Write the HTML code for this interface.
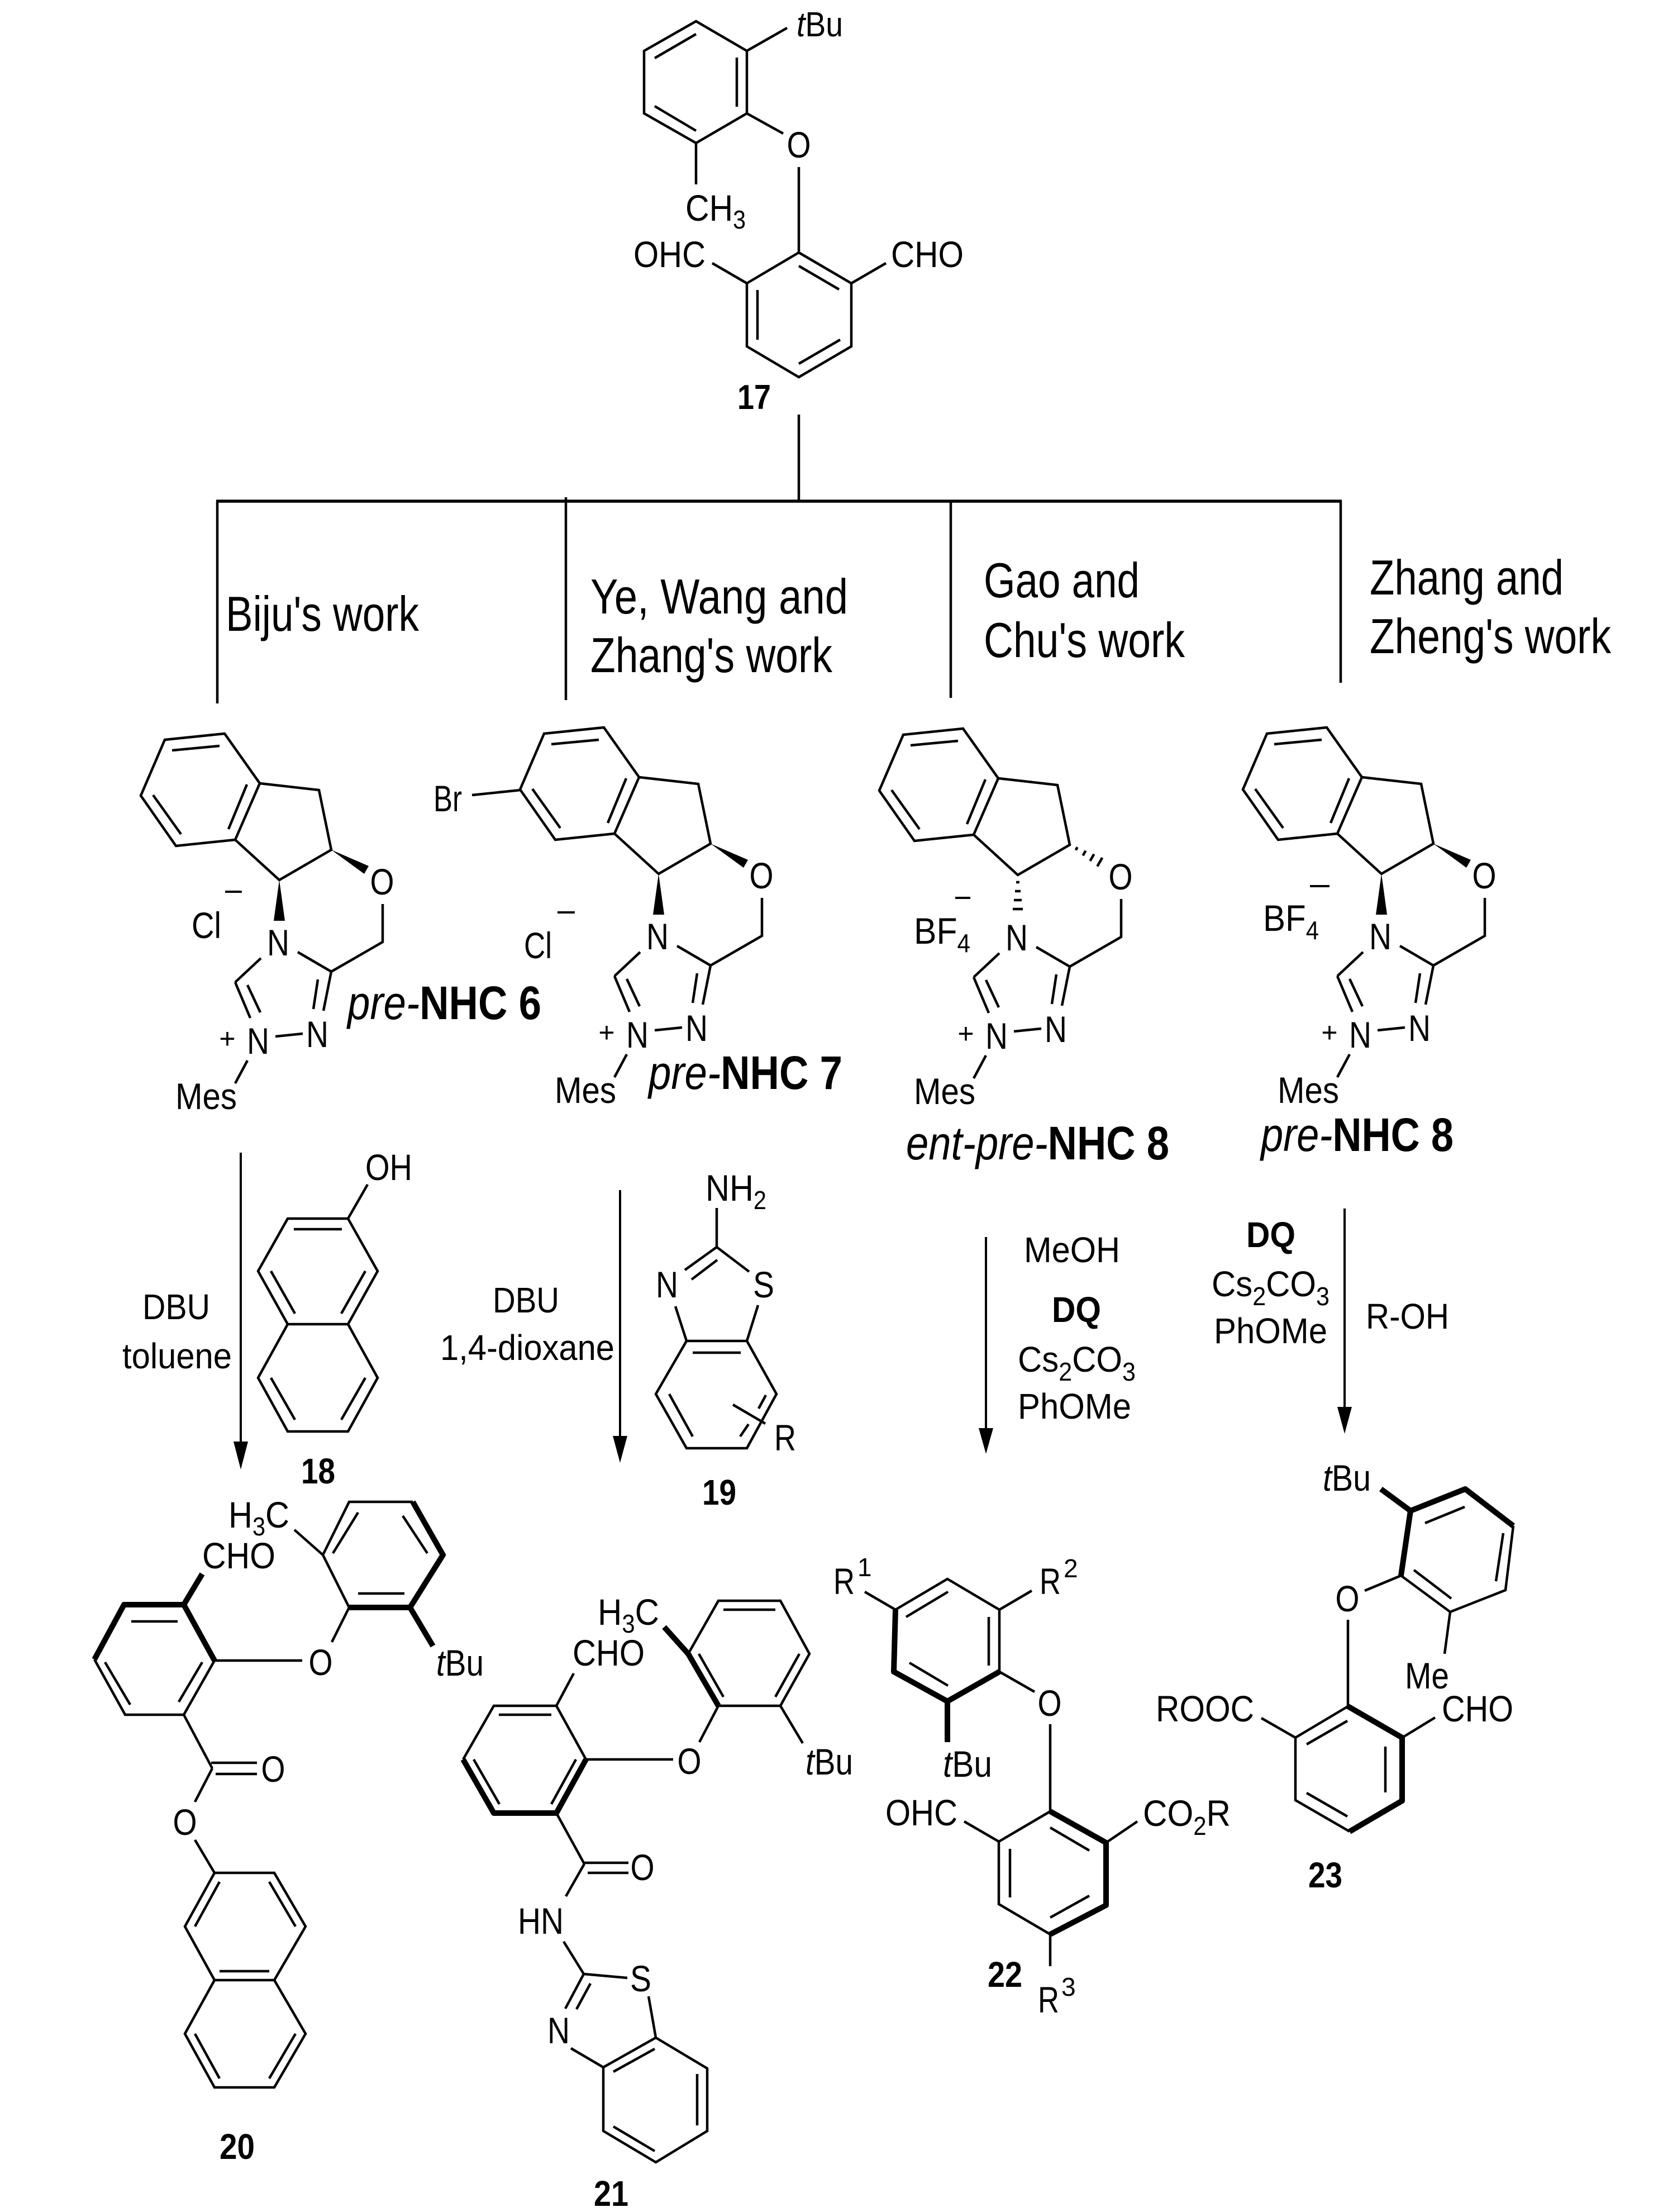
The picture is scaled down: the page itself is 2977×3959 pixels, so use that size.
<!DOCTYPE html>
<html><head><meta charset="utf-8"><title>Scheme</title><style>
html,body{margin:0;padding:0;background:#fff;}
svg{display:block;}
text{font-family:"Liberation Sans",Arial,sans-serif;fill:#000;}
.m{text-anchor:middle;}
.bd{font-weight:bold;}
.it{font-style:italic;}
</style></head><body>
<svg xmlns="http://www.w3.org/2000/svg" width="2977" height="3959" viewBox="0 0 2977 3959">
<rect width="2977" height="3959" fill="#fff"/>

<!-- ============ THIN BONDS ============ -->
<g stroke="#000" stroke-width="4.5" fill="none" stroke-linejoin="miter">
<!-- 17 -->
<polygon points="1246,38 1337,91 1337,203 1246,256 1153,203 1153,91"/>
<line x1="1172" y1="104" x2="1246" y2="61"/>
<line x1="1319" y1="103" x2="1319" y2="191"/>
<line x1="1172" y1="190" x2="1246" y2="234"/>
<line x1="1337" y1="91" x2="1409" y2="50"/>
<line x1="1337" y1="203" x2="1402" y2="239"/>
<line x1="1430" y1="299" x2="1430" y2="452"/>
<line x1="1246" y1="256" x2="1246" y2="330"/>
<polygon points="1430,452 1524,507 1524,620 1430,675 1337,620 1337,507"/>
<line x1="1430" y1="476" x2="1502" y2="518"/>
<line x1="1356" y1="519" x2="1356" y2="608"/>
<line x1="1430" y1="651" x2="1504" y2="608"/>
<line x1="1275" y1="471" x2="1337" y2="507"/>
<line x1="1524" y1="507" x2="1586" y2="471"/>

<!-- tree -->
<line x1="1430" y1="742" x2="1430" y2="897"/>
<line x1="387" y1="897" x2="2402" y2="897" stroke-width="5.5"/>
<line x1="389" y1="897" x2="389" y2="1259"/>
<line x1="1013" y1="890" x2="1013" y2="1253"/>
<line x1="1702" y1="897" x2="1702" y2="1249"/>
<line x1="2400" y1="897" x2="2400" y2="1222"/>

<!-- NHC cores -->
<g id="c6">
<polygon points="295,1324 402,1313 465,1402 421,1503 315,1514 252,1424"/>
<line x1="308" y1="1343" x2="393" y2="1335"/>
<line x1="442" y1="1404" x2="409" y2="1484"/>
<line x1="274" y1="1423" x2="324" y2="1493"/>
<polyline points="465,1402 571,1414 593,1521 500,1575 421,1503"/>
<polyline points="685,1618 685,1686 593,1739"/>
<line x1="533" y1="1704" x2="593" y2="1739"/>
<line x1="467" y1="1715" x2="421" y2="1758"/>
<line x1="421" y1="1758" x2="448" y2="1822"/>
<line x1="443" y1="1763" x2="466" y2="1812"/>
<line x1="493" y1="1855" x2="542" y2="1850"/>
<line x1="593" y1="1739" x2="579" y2="1809"/>
<line x1="569" y1="1753" x2="561" y2="1806"/>
<line x1="443" y1="1898" x2="421" y2="1939"/>
</g>
<g transform="translate(679,-11)">
<polygon points="295,1324 402,1313 465,1402 421,1503 315,1514 252,1424"/>
<line x1="308" y1="1343" x2="393" y2="1335"/>
<line x1="442" y1="1404" x2="409" y2="1484"/>
<line x1="274" y1="1423" x2="324" y2="1493"/>
<polyline points="465,1402 571,1414 593,1521 500,1575 421,1503"/>
<polyline points="685,1618 685,1686 593,1739"/>
<line x1="533" y1="1704" x2="593" y2="1739"/>
<line x1="467" y1="1715" x2="421" y2="1758"/>
<line x1="421" y1="1758" x2="448" y2="1822"/>
<line x1="443" y1="1763" x2="466" y2="1812"/>
<line x1="493" y1="1855" x2="542" y2="1850"/>
<line x1="593" y1="1739" x2="579" y2="1809"/>
<line x1="569" y1="1753" x2="561" y2="1806"/>
<line x1="443" y1="1898" x2="421" y2="1939"/>
</g>
<line x1="845" y1="1423" x2="932" y2="1414"/>
<g transform="translate(1322,-9)">
<polygon points="295,1324 402,1313 465,1402 421,1503 315,1514 252,1424"/>
<line x1="308" y1="1343" x2="393" y2="1335"/>
<line x1="442" y1="1404" x2="409" y2="1484"/>
<line x1="274" y1="1423" x2="324" y2="1493"/>
<polyline points="465,1402 571,1414 593,1521 500,1575 421,1503"/>
<polyline points="685,1618 685,1686 593,1739"/>
<line x1="533" y1="1704" x2="593" y2="1739"/>
<line x1="467" y1="1715" x2="421" y2="1758"/>
<line x1="421" y1="1758" x2="448" y2="1822"/>
<line x1="443" y1="1763" x2="466" y2="1812"/>
<line x1="493" y1="1855" x2="542" y2="1850"/>
<line x1="593" y1="1739" x2="579" y2="1809"/>
<line x1="569" y1="1753" x2="561" y2="1806"/>
<line x1="443" y1="1898" x2="421" y2="1939"/>
<!-- hashed bonds -->
<line x1="603.7" y1="1530.5" x2="606.7" y2="1525.3"/>
<line x1="616.5" y1="1540.2" x2="621.5" y2="1531.6"/>
<line x1="629.4" y1="1549.9" x2="636.4" y2="1537.7"/>
<line x1="642.3" y1="1559.6" x2="651.3" y2="1544.0"/>
<line x1="497" y1="1588" x2="503" y2="1588"/>
<line x1="495" y1="1604" x2="505" y2="1604"/>
<line x1="493" y1="1620" x2="507" y2="1620"/>
<line x1="491" y1="1636" x2="509" y2="1636"/>
</g>
<g transform="translate(1973,-11)">
<polygon points="295,1324 402,1313 465,1402 421,1503 315,1514 252,1424"/>
<line x1="308" y1="1343" x2="393" y2="1335"/>
<line x1="442" y1="1404" x2="409" y2="1484"/>
<line x1="274" y1="1423" x2="324" y2="1493"/>
<polyline points="465,1402 571,1414 593,1521 500,1575 421,1503"/>
<polyline points="685,1618 685,1686 593,1739"/>
<line x1="533" y1="1704" x2="593" y2="1739"/>
<line x1="467" y1="1715" x2="421" y2="1758"/>
<line x1="421" y1="1758" x2="448" y2="1822"/>
<line x1="443" y1="1763" x2="466" y2="1812"/>
<line x1="493" y1="1855" x2="542" y2="1850"/>
<line x1="593" y1="1739" x2="579" y2="1809"/>
<line x1="569" y1="1753" x2="561" y2="1806"/>
<line x1="443" y1="1898" x2="421" y2="1939"/>
</g>
<!-- minus signs -->
<line x1="403" y1="1596" x2="433" y2="1596" stroke-width="4"/>
<line x1="998" y1="1633" x2="1029" y2="1633" stroke-width="4"/>
<line x1="1710" y1="1607" x2="1737" y2="1607" stroke-width="4"/>
<line x1="2345" y1="1586" x2="2380" y2="1586" stroke-width="4"/>

<!-- arrows -->
<line x1="431" y1="2063" x2="431" y2="2590" stroke-width="4"/>
<line x1="1110" y1="2130" x2="1110" y2="2580" stroke-width="4"/>
<line x1="1765" y1="2214" x2="1765" y2="2565" stroke-width="4"/>
<line x1="2407" y1="2163" x2="2407" y2="2525" stroke-width="4"/>

<!-- 18 -->
<polygon points="515,2181 623,2181 676,2275 623,2370 515,2370 462,2275"/>
<polyline points="623,2370 676,2466 623,2562 515,2562 462,2466 515,2370"/>
<line x1="526" y1="2200" x2="612" y2="2200"/>
<line x1="654" y1="2275" x2="611" y2="2351"/>
<line x1="485" y1="2275" x2="528" y2="2351"/>
<line x1="485" y1="2466" x2="528" y2="2541"/>
<line x1="654" y1="2466" x2="611" y2="2541"/>
<line x1="623" y1="2181" x2="658" y2="2120"/>

<!-- 19 -->
<line x1="1283" y1="2162" x2="1283" y2="2232"/>
<line x1="1283" y1="2232" x2="1226" y2="2273"/>
<line x1="1284" y1="2255" x2="1238" y2="2290"/>
<line x1="1283" y1="2232" x2="1341" y2="2276"/>
<line x1="1357" y1="2336" x2="1337" y2="2400"/>
<line x1="1209" y1="2338" x2="1229" y2="2400"/>
<polygon points="1229,2400 1337,2400 1390,2495 1337,2592 1229,2592 1174,2495"/>
<line x1="1240" y1="2421" x2="1326" y2="2421"/>
<line x1="1198" y1="2495" x2="1240" y2="2571"/>
<line x1="1371" y1="2497" x2="1358" y2="2521"/>
<line x1="1340" y1="2549" x2="1325" y2="2571"/>
<line x1="1312" y1="2514" x2="1370" y2="2548"/>

<!-- 20 thin -->
<polyline points="739,2688 625,2688 578,2783 625,2877"/>
<line x1="641" y1="2707" x2="596" y2="2780"/>
<line x1="721" y1="2713" x2="765" y2="2780"/>
<line x1="641" y1="2852" x2="724" y2="2852"/>
<line x1="527" y1="2738" x2="578" y2="2783"/>
<line x1="625" y1="2877" x2="594" y2="2939"/>
<polyline points="384,2972 329,3069 224,3069 169,2970"/>
<line x1="235" y1="2902" x2="318" y2="2902"/>
<line x1="188" y1="2975" x2="233" y2="3051"/>
<line x1="362" y1="2975" x2="320" y2="3046"/>
<line x1="384" y1="2972" x2="541" y2="2972"/>
<line x1="329" y1="3069" x2="380" y2="3165"/>
<line x1="378" y1="3155" x2="460" y2="3155"/>
<line x1="386" y1="3175" x2="460" y2="3175"/>
<line x1="380" y1="3165" x2="349" y2="3225"/>
<line x1="349" y1="3293" x2="384" y2="3352"/>
<polygon points="384,3352 491,3352 547,3448 491,3544 384,3544 331,3448"/>
<polyline points="491,3544 547,3640 491,3736 384,3736 331,3640 384,3544"/>
<line x1="349" y1="3448" x2="393" y2="3368"/>
<line x1="482" y1="3368" x2="529" y2="3448"/>
<line x1="482" y1="3528" x2="393" y2="3528"/>
<line x1="529" y1="3640" x2="482" y2="3720"/>
<line x1="393" y1="3720" x2="349" y2="3640"/>

<!-- 21 thin -->
<polyline points="1232,2960 1286,2865 1397,2865 1449,2960 1397,3053 1286,3053"/>
<line x1="1295" y1="2881" x2="1388" y2="2881"/>
<line x1="1431" y1="2960" x2="1388" y2="3037"/>
<line x1="1295" y1="3037" x2="1251" y2="2960"/>
<line x1="1286" y1="3053" x2="1252" y2="3118"/>
<line x1="1397" y1="3053" x2="1437" y2="3120"/>
<polyline points="829,3149 884,3053 996,3053 1049,3149"/>
<line x1="893" y1="3069" x2="987" y2="3069"/>
<line x1="1031" y1="3149" x2="987" y2="3229"/>
<line x1="894" y1="3229" x2="848" y2="3149"/>
<line x1="996" y1="3053" x2="1027" y2="2995"/>
<line x1="1049" y1="3149" x2="1205" y2="3149"/>
<line x1="996" y1="3245" x2="1046" y2="3336"/>
<line x1="1044" y1="3334" x2="1125" y2="3334"/>
<line x1="1052" y1="3352" x2="1125" y2="3352"/>
<line x1="1046" y1="3336" x2="1013" y2="3394"/>
<line x1="1009" y1="3475" x2="1045" y2="3533"/>
<line x1="1045" y1="3533" x2="1123" y2="3540"/>
<line x1="1045" y1="3533" x2="1012" y2="3595"/>
<line x1="1057" y1="3550" x2="1032" y2="3596"/>
<line x1="1022" y1="3666" x2="1080" y2="3700"/>
<line x1="1161" y1="3573" x2="1174" y2="3647"/>
<polygon points="1174,3647 1266,3702 1266,3814 1174,3870 1080,3814 1080,3700"/>
<line x1="1248" y1="3712" x2="1248" y2="3804"/>
<line x1="1172" y1="3850" x2="1098" y2="3806"/>
<line x1="1098" y1="3708" x2="1172" y2="3667"/>

<!-- 22 thin -->
<polyline points="1603,2881 1696,2826 1789,2881 1789,2992"/>
<line x1="1622" y1="2894" x2="1697" y2="2849"/>
<line x1="1770" y1="2894" x2="1770" y2="2981"/>
<line x1="1628" y1="2976" x2="1697" y2="3017"/>
<line x1="1603" y1="2881" x2="1548" y2="2849"/>
<line x1="1789" y1="2881" x2="1847" y2="2847"/>
<line x1="1789" y1="2992" x2="1852" y2="3028"/>
<line x1="1880" y1="3086" x2="1880" y2="3242"/>
<polyline points="1880,3462 1788,3408 1788,3296 1880,3242"/>
<line x1="1880" y1="3271" x2="1950" y2="3312"/>
<line x1="1808" y1="3309" x2="1808" y2="3396"/>
<line x1="1880" y1="3432" x2="1950" y2="3393"/>
<line x1="1788" y1="3296" x2="1726" y2="3260"/>
<line x1="1980" y1="3298" x2="2036" y2="3260"/>
<line x1="1880" y1="3462" x2="1880" y2="3519"/>

<!-- 23 thin -->
<polyline points="2709,2731 2695,2846 2596,2885 2508,2820"/>
<line x1="2551" y1="2726" x2="2622" y2="2697"/>
<line x1="2691" y1="2744" x2="2678" y2="2830"/>
<line x1="2531" y1="2810" x2="2598" y2="2861"/>
<line x1="2596" y1="2885" x2="2586" y2="2960"/>
<line x1="2508" y1="2820" x2="2443" y2="2847"/>
<line x1="2413" y1="2899" x2="2413" y2="3054"/>
<polyline points="2416,3278 2319,3222 2319,3110 2413,3054"/>
<line x1="2339" y1="3122" x2="2412" y2="3080"/>
<line x1="2480" y1="3126" x2="2480" y2="3208"/>
<line x1="2339" y1="3209" x2="2412" y2="3251"/>
<line x1="2319" y1="3110" x2="2258" y2="3075"/>
<line x1="2510" y1="3110" x2="2569" y2="3074"/>
</g>

<!-- ============ THICK BONDS ============ -->
<g stroke="#000" stroke-width="10" fill="none" stroke-linejoin="round">
<polyline points="625,2877 734,2877 793,2783 739,2688"/>
<line x1="734" y1="2877" x2="775" y2="2946"/>
<polyline points="169,2970 222,2872 329,2872 384,2972"/>
<line x1="329" y1="2872" x2="362" y2="2817"/>
<line x1="1286" y1="3053" x2="1232" y2="2960"/>
<line x1="1232" y1="2960" x2="1189" y2="2912"/>
<polyline points="829,3149 884,3245 996,3245 1049,3149"/>
<polyline points="1603,2881 1600,2992 1696,3045 1789,2992"/>
<line x1="1696" y1="3045" x2="1696" y2="3118"/>
<polyline points="1880,3242 1980,3298 1980,3410 1880,3462"/>
<line x1="2472" y1="2665" x2="2525" y2="2704"/>
<polyline points="2508,2820 2525,2704 2623,2665 2709,2731"/>
<polyline points="2413,3054 2510,3110 2510,3223 2416,3278"/>
</g>

<!-- ============ WEDGES / ARROWHEADS ============ -->
<g fill="#000" stroke="none">
<polygon points="593,1521 660,1550 652,1564"/>
<polygon points="500,1575 510,1648 490,1648"/>
<polygon points="1272,1510 1339,1539 1331,1553"/>
<polygon points="1179,1564 1189,1637 1169,1637"/>
<polygon points="2566,1510 2633,1539 2625,1553"/>
<polygon points="2473,1564 2483,1637 2463,1637"/>
<polygon points="418,2580 444,2580 431,2630"/>
<polygon points="1097,2570 1123,2570 1110,2618"/>
<polygon points="1752,2556 1778,2556 1765,2602"/>
<polygon points="2394,2518 2420,2518 2407,2566"/>
</g>

<!-- ============ TEXT ============ -->
<g font-size="66">
<!-- 17 -->
<text x="1426" y="65" font-size="62" textLength="83" lengthAdjust="spacingAndGlyphs"><tspan class="it">t</tspan>Bu</text>
<text x="1430" y="282" class="m" textLength="43" lengthAdjust="spacingAndGlyphs">O</text>
<text x="1227" y="395" textLength="108" lengthAdjust="spacingAndGlyphs">CH<tspan dy="14" font-size="46">3</tspan></text>
<text x="1134" y="478" textLength="129" lengthAdjust="spacingAndGlyphs">OHC</text>
<text x="1595" y="478" textLength="130" lengthAdjust="spacingAndGlyphs">CHO</text>
<text x="1320" y="732" class="bd" font-size="62" textLength="60" lengthAdjust="spacingAndGlyphs">17</text>

<!-- tree labels -->
<g font-size="88">
<text x="404" y="1129" textLength="346" lengthAdjust="spacingAndGlyphs">Biju's work</text>
<text x="1057" y="1098" textLength="461" lengthAdjust="spacingAndGlyphs">Ye, Wang and</text>
<text x="1057" y="1203" textLength="433" lengthAdjust="spacingAndGlyphs">Zhang's work</text>
<text x="1761" y="1069" textLength="279" lengthAdjust="spacingAndGlyphs">Gao and</text>
<text x="1761" y="1176" textLength="360" lengthAdjust="spacingAndGlyphs">Chu's work</text>
<text x="2452" y="1064" textLength="347" lengthAdjust="spacingAndGlyphs">Zhang and</text>
<text x="2452" y="1169" textLength="432" lengthAdjust="spacingAndGlyphs">Zheng's work</text>
</g>

<!-- NHC 6 texts -->
<g>
<text x="684" y="1601" class="m" textLength="43" lengthAdjust="spacingAndGlyphs">O</text>
<text x="498" y="1710" class="m" textLength="40" lengthAdjust="spacingAndGlyphs">N</text>
<text x="462" y="1886" class="m" textLength="40" lengthAdjust="spacingAndGlyphs">N</text>
<text x="568" y="1874" class="m" textLength="40" lengthAdjust="spacingAndGlyphs">N</text>
<text x="407" y="1876" class="m" font-size="50">+</text>
<text x="314" y="1985" textLength="110" lengthAdjust="spacingAndGlyphs">Mes</text>
</g>
<g transform="translate(679,-11)">
<text x="684" y="1601" class="m" textLength="43" lengthAdjust="spacingAndGlyphs">O</text>
<text x="498" y="1710" class="m" textLength="40" lengthAdjust="spacingAndGlyphs">N</text>
<text x="462" y="1886" class="m" textLength="40" lengthAdjust="spacingAndGlyphs">N</text>
<text x="568" y="1874" class="m" textLength="40" lengthAdjust="spacingAndGlyphs">N</text>
<text x="407" y="1876" class="m" font-size="50">+</text>
<text x="314" y="1985" textLength="110" lengthAdjust="spacingAndGlyphs">Mes</text>
</g>
<g transform="translate(1322,-9)">
<text x="684" y="1601" class="m" textLength="43" lengthAdjust="spacingAndGlyphs">O</text>
<text x="498" y="1710" class="m" textLength="40" lengthAdjust="spacingAndGlyphs">N</text>
<text x="462" y="1886" class="m" textLength="40" lengthAdjust="spacingAndGlyphs">N</text>
<text x="568" y="1874" class="m" textLength="40" lengthAdjust="spacingAndGlyphs">N</text>
<text x="407" y="1876" class="m" font-size="50">+</text>
<text x="314" y="1985" textLength="110" lengthAdjust="spacingAndGlyphs">Mes</text>
</g>
<g transform="translate(1973,-11)">
<text x="684" y="1601" class="m" textLength="43" lengthAdjust="spacingAndGlyphs">O</text>
<text x="498" y="1710" class="m" textLength="40" lengthAdjust="spacingAndGlyphs">N</text>
<text x="462" y="1886" class="m" textLength="40" lengthAdjust="spacingAndGlyphs">N</text>
<text x="568" y="1874" class="m" textLength="40" lengthAdjust="spacingAndGlyphs">N</text>
<text x="407" y="1876" class="m" font-size="50">+</text>
<text x="314" y="1985" textLength="110" lengthAdjust="spacingAndGlyphs">Mes</text>
</g>

<text x="343" y="1679" textLength="53" lengthAdjust="spacingAndGlyphs">Cl</text>
<text x="776" y="1452" textLength="51" lengthAdjust="spacingAndGlyphs">Br</text>
<text x="938" y="1715" textLength="50" lengthAdjust="spacingAndGlyphs">Cl</text>
<text x="1636" y="1689" textLength="101" lengthAdjust="spacingAndGlyphs">BF<tspan dy="15" font-size="46">4</tspan></text>
<text x="2261" y="1666" textLength="100" lengthAdjust="spacingAndGlyphs">BF<tspan dy="15" font-size="46">4</tspan></text>

<g font-size="84">
<text x="622" y="1824" textLength="347" lengthAdjust="spacingAndGlyphs"><tspan class="it">pre-</tspan><tspan class="bd">NHC 6</tspan></text>
<text x="1161" y="1949" textLength="347" lengthAdjust="spacingAndGlyphs"><tspan class="it">pre-</tspan><tspan class="bd">NHC 7</tspan></text>
<text x="1622" y="2075" textLength="471" lengthAdjust="spacingAndGlyphs"><tspan class="it">ent-pre-</tspan><tspan class="bd">NHC 8</tspan></text>
<text x="2257" y="2060" textLength="345" lengthAdjust="spacingAndGlyphs"><tspan class="it">pre-</tspan><tspan class="bd">NHC 8</tspan></text>
</g>

<!-- reagents -->
<g font-size="64">
<text x="255" y="2361" textLength="121" lengthAdjust="spacingAndGlyphs">DBU</text>
<text x="219" y="2449" textLength="196" lengthAdjust="spacingAndGlyphs">toluene</text>
<text x="882" y="2349" textLength="119" lengthAdjust="spacingAndGlyphs">DBU</text>
<text x="788" y="2434" textLength="312" lengthAdjust="spacingAndGlyphs">1,4-dioxane</text>
<text x="1833" y="2259" textLength="172" lengthAdjust="spacingAndGlyphs">MeOH</text>
<text x="1883" y="2366" class="bd" textLength="88" lengthAdjust="spacingAndGlyphs">DQ</text>
<text x="1822" y="2455" textLength="211" lengthAdjust="spacingAndGlyphs">Cs<tspan dy="16" font-size="46">2</tspan><tspan dy="-16">CO</tspan><tspan dy="16" font-size="46">3</tspan></text>
<text x="1822" y="2539" textLength="203" lengthAdjust="spacingAndGlyphs">PhOMe</text>
<text x="2231" y="2232" class="bd" textLength="88" lengthAdjust="spacingAndGlyphs">DQ</text>
<text x="2169" y="2320" textLength="211" lengthAdjust="spacingAndGlyphs">Cs<tspan dy="16" font-size="46">2</tspan><tspan dy="-16">CO</tspan><tspan dy="16" font-size="46">3</tspan></text>
<text x="2173" y="2404" textLength="203" lengthAdjust="spacingAndGlyphs">PhOMe</text>
<text x="2445" y="2378" textLength="149" lengthAdjust="spacingAndGlyphs">R-OH</text>
</g>

<!-- 18 / 19 -->
<text x="654" y="2112" textLength="84" lengthAdjust="spacingAndGlyphs">OH</text>
<text x="539" y="2655" class="bd" font-size="64" textLength="61" lengthAdjust="spacingAndGlyphs">18</text>
<text x="1263" y="2149" textLength="109" lengthAdjust="spacingAndGlyphs">NH<tspan dy="15" font-size="46">2</tspan></text>
<text x="1194" y="2322" class="m" textLength="40" lengthAdjust="spacingAndGlyphs">N</text>
<text x="1367" y="2322" class="m" textLength="38" lengthAdjust="spacingAndGlyphs">S</text>
<text x="1386" y="2596" textLength="39" lengthAdjust="spacingAndGlyphs">R</text>
<text x="1257" y="2693" class="bd" font-size="64" textLength="61" lengthAdjust="spacingAndGlyphs">19</text>

<!-- 20 -->
<text x="409" y="2734" textLength="109" lengthAdjust="spacingAndGlyphs">H<tspan dy="14" font-size="46">3</tspan><tspan dy="-14">C</tspan></text>
<text x="362" y="2807" textLength="131" lengthAdjust="spacingAndGlyphs">CHO</text>
<text x="574" y="2998" class="m" textLength="43" lengthAdjust="spacingAndGlyphs">O</text>
<text x="781" y="2999" textLength="85" lengthAdjust="spacingAndGlyphs"><tspan class="it">t</tspan>Bu</text>
<text x="489" y="3189" class="m" textLength="43" lengthAdjust="spacingAndGlyphs">O</text>
<text x="331" y="3284" class="m" textLength="43" lengthAdjust="spacingAndGlyphs">O</text>
<text x="393" y="3864" class="bd" font-size="64" textLength="63" lengthAdjust="spacingAndGlyphs">20</text>

<!-- 21 -->
<text x="1070" y="2908" textLength="110" lengthAdjust="spacingAndGlyphs">H<tspan dy="14" font-size="46">3</tspan><tspan dy="-14">C</tspan></text>
<text x="1025" y="2981" textLength="129" lengthAdjust="spacingAndGlyphs">CHO</text>
<text x="1234" y="3175" class="m" textLength="43" lengthAdjust="spacingAndGlyphs">O</text>
<text x="1442" y="3176" textLength="85" lengthAdjust="spacingAndGlyphs"><tspan class="it">t</tspan>Bu</text>
<text x="1150" y="3365" class="m" textLength="43" lengthAdjust="spacingAndGlyphs">O</text>
<text x="927" y="3461" textLength="82" lengthAdjust="spacingAndGlyphs">HN</text>
<text x="1147" y="3564" class="m" textLength="38" lengthAdjust="spacingAndGlyphs">S</text>
<text x="1000" y="3657" class="m" textLength="40" lengthAdjust="spacingAndGlyphs">N</text>
<text x="1063" y="3948" class="bd" font-size="64" textLength="62" lengthAdjust="spacingAndGlyphs">21</text>

<!-- 22 -->
<text x="1492" y="2853" textLength="38" lengthAdjust="spacingAndGlyphs">R</text>
<text x="1535" y="2821" font-size="46">1</text>
<text x="1861" y="2853" textLength="38" lengthAdjust="spacingAndGlyphs">R</text>
<text x="1904" y="2823" font-size="46">2</text>
<text x="1879" y="3071" class="m" textLength="43" lengthAdjust="spacingAndGlyphs">O</text>
<text x="1688" y="3180" textLength="88" lengthAdjust="spacingAndGlyphs"><tspan class="it">t</tspan>Bu</text>
<text x="1585" y="3267" textLength="129" lengthAdjust="spacingAndGlyphs">OHC</text>
<text x="2046" y="3268" textLength="157" lengthAdjust="spacingAndGlyphs">CO<tspan dy="16" font-size="46">2</tspan><tspan dy="-16">R</tspan></text>
<text x="1858" y="3602" textLength="38" lengthAdjust="spacingAndGlyphs">R</text>
<text x="1900" y="3572" font-size="46">3</text>
<text x="1768" y="3556" class="bd" font-size="64" textLength="62" lengthAdjust="spacingAndGlyphs">22</text>

<!-- 23 -->
<text x="2368" y="2668" textLength="86" lengthAdjust="spacingAndGlyphs"><tspan class="it">t</tspan>Bu</text>
<text x="2412" y="2884" class="m" textLength="43" lengthAdjust="spacingAndGlyphs">O</text>
<text x="2515" y="3022" textLength="79" lengthAdjust="spacingAndGlyphs">Me</text>
<text x="2069" y="3081" textLength="176" lengthAdjust="spacingAndGlyphs">ROOC</text>
<text x="2581" y="3081" textLength="128" lengthAdjust="spacingAndGlyphs">CHO</text>
<text x="2342" y="3378" class="bd" font-size="64" textLength="61" lengthAdjust="spacingAndGlyphs">23</text>
</g>
</svg>
</body></html>
